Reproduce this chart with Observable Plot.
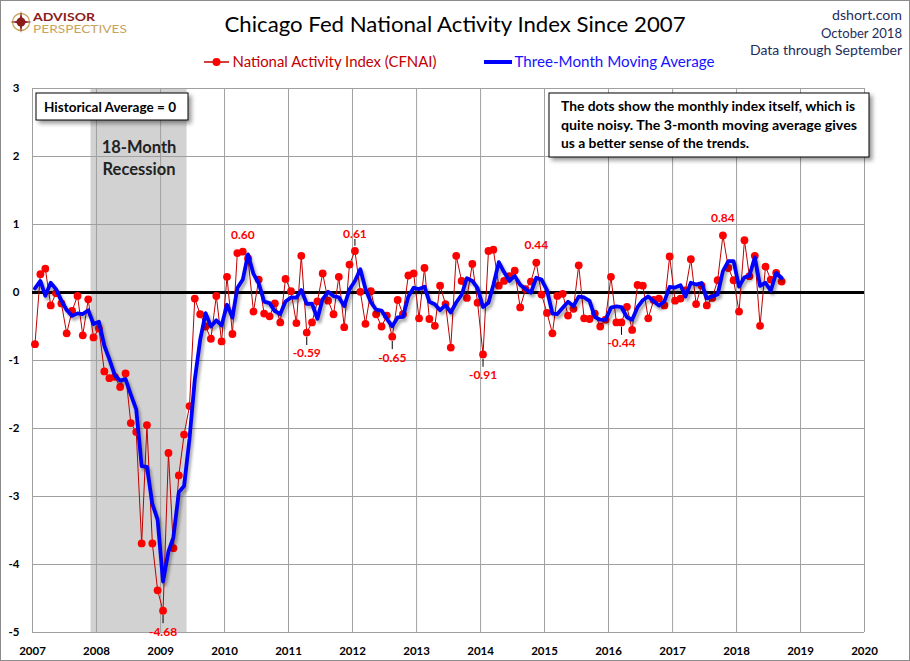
<!DOCTYPE html>
<html>
<head>
<meta charset="utf-8">
<script src="https://cdn.jsdelivr.net/npm/d3@7"></script>
<script src="https://cdn.jsdelivr.net/npm/@observablehq/plot@0.6"></script>
<style>
  html, body { margin: 0; padding: 0; background: #fff; }
  #wrap { position: relative; width: 910px; height: 661px; overflow: hidden; background: #fff; }
  #chart, #overlay { position: absolute; left: 0; top: 0; }
  #overlay { pointer-events: none; }
  #frame { position: absolute; left: 0; top: 0; width: 908px; height: 659px; border: 1px solid #8c8c8c; pointer-events: none; }
</style>
</head>
<body>
<div id="wrap">
  <div id="chart"></div>
  <svg id="overlay" width="910" height="661" xmlns="http://www.w3.org/2000/svg"></svg>
  <div id="frame"></div>
</div>
<script>
// ---------------- data ----------------
// Nov & Dec 2006: only feed the first two 3-month averages (not drawn as dots)
const v2006NovDec = [-0.06, 1.00];
const v2007 = [-0.76, 0.27, 0.35, -0.19, -0.01, -0.16, -0.60, -0.27, -0.05, -0.63, -0.10, -0.66];
const v2008 = [-0.53, -1.16, -1.26, -1.24, -1.39, -1.19, -1.92, -2.05, -3.69, -1.95, -3.69, -4.38];
const v2009 = [-4.68, -2.36, -3.76, -2.69, -2.09, -1.67, -0.09, -0.32, -0.50, -0.68, -0.05, -0.72];
const v2010 = [0.23, -0.61, 0.58, 0.60, 0.50, -0.28, 0.19, -0.31, -0.35, -0.16, -0.44, 0.20];
const v2011 = [0.02, -0.45, 0.54, -0.59, -0.44, -0.13, 0.28, -0.12, -0.32, 0.23, -0.51, 0.41];
const v2012 = [0.61, 0.01, -0.46, 0.02, -0.32, -0.50, -0.34, -0.65, -0.11, -0.32, 0.25, 0.28];
const v2013 = [-0.38, 0.36, -0.39, -0.49, 0.10, -0.17, -0.81, 0.54, 0.17, -0.08, 0.42, -0.15];
const v2014 = [-0.91, 0.61, 0.63, 0.10, 0.17, 0.24, 0.32, -0.22, 0.05, 0.16, 0.44, -0.03];
const v2015 = [-0.30, -0.60, -0.05, -0.02, -0.34, -0.24, 0.40, -0.38, -0.39, -0.31, -0.50, -0.40];
const v2016 = [0.23, -0.44, -0.44, -0.21, -0.55, 0.11, 0.10, -0.38, -0.11, -0.09, -0.19, 0.53];
const v2017 = [-0.12, -0.09, 0.03, 0.49, -0.17, 0.10, -0.19, -0.08, 0.18, 0.84, 0.36, 0.18];
const v2018 = [-0.28, 0.77, 0.24, 0.54, -0.49, 0.38, 0.19, 0.29, 0.16];

const years = [2007, 2008, 2009, 2010, 2011, 2012, 2013, 2014, 2015, 2016, 2017, 2018];
const yearValues = [v2007, v2008, v2009, v2010, v2011, v2012, v2013, v2014, v2015, v2016, v2017, v2018];

const xTickYears = [2007, 2008, 2009, 2010, 2011, 2012, 2013, 2014, 2015, 2016, 2017, 2018, 2019, 2020];
const yTicks = [-5, -4, -3, -2, -1, 0, 1, 2, 3];

const recessions = [{start: "2007-12-01", end: "2009-06-01", label: "18-Month\nRecession"}];
const highLabelMonths = ["2010-04", "2012-01", "2014-11", "2017-10"];
const lowLabelMonths = ["2009-01", "2011-04", "2012-08", "2014-01", "2016-03"];
const leaderMonthsHigh = ["2012-01"];

// ---------------- tables built from the arrays ----------------
const pad = m => String(m + 1).padStart(2, "0");
const rows = [];
years.forEach((yr, i) => yearValues[i].forEach((v, m) => rows.push({
  key: `${yr}-${pad(m)}`, date: new Date(Date.UTC(yr, m, 15)), value: v
})));
const priorRows = v2006NovDec.map((v, i) => ({key: `2006-${pad(10 + i)}`, date: new Date(Date.UTC(2006, 10 + i, 15)), value: v}));
const allRows = priorRows.concat(rows);
const byKey = new Map(rows.map(d => [d.key, d]));
const highs = highLabelMonths.map(k => byKey.get(k));
const lows = lowLabelMonths.map(k => byKey.get(k));
const highLeaders = leaderMonthsHigh.map(k => byKey.get(k));
const xTicks = xTickYears.map(y => new Date(Date.UTC(y, 0, 1)));
const recTable = recessions.map(r => {
  const s = new Date(r.start + "T00:00:00Z"), e = new Date(r.end + "T00:00:00Z");
  return {start: s, end: e, mid: new Date((+s + +e) / 2), label: r.label};
});
const fmt = v => v.toFixed(2);
const MA_COLOR = "#0000ff";

// ---------------- chart ----------------
const chart = Plot.plot({
  width: 910,
  height: 661,
  marginLeft: 32,
  marginRight: 46,
  marginTop: 88,
  marginBottom: 29,
  style: {fontFamily: "Lato, 'Open Sans', sans-serif", fontSize: "11.5px", fontWeight: "bold", color: "#000", background: "transparent", overflow: "visible"},
  x: {type: "utc", domain: [xTicks[0], xTicks[xTicks.length - 1]], ticks: xTicks,
      tickFormat: d => String(d.getUTCFullYear()), tickSize: 0, tickPadding: 14, label: null},
  y: {domain: [yTicks[0], yTicks[yTicks.length - 1]], ticks: yTicks,
      tickFormat: d => String(d), tickSize: 0, tickPadding: 13, label: null},
  marks: [
    Plot.rect(recTable, {x1: "start", x2: "end", y1: yTicks[0], y2: yTicks[yTicks.length - 1], fill: "#d2d2d2"}),
    Plot.ruleX(xTicks, {stroke: "#a0a0a0", strokeWidth: 1}),
    Plot.ruleY(yTicks, {stroke: "#a0a0a0", strokeWidth: 1}),
    Plot.text(recTable, {x: "mid", y: 2, text: "label", fontSize: 16.5, fontWeight: "bold",
      fill: "#222", lineHeight: 1.35, textAnchor: "middle"}),
    Plot.ruleY([0], {stroke: "#000", strokeWidth: 3}),
    Plot.line(rows, {x: "date", y: "value", stroke: "#c00000", strokeWidth: 1}),
    Plot.dot(rows, {x: "date", y: "value", r: 3.9, fill: "#ff0000", stroke: "none"}),
    Plot.line(allRows, Plot.windowY({k: 3, anchor: "end", strict: true},
      {x: "date", y: "value", stroke: MA_COLOR, strokeWidth: 3.8, clip: true})),
    Plot.ruleX(lows, {x: "date", y1: d => d.value - 0.07, y2: d => d.value - 0.19, stroke: "#000", strokeWidth: 1}),
    Plot.ruleX(highLeaders, {x: "date", y1: d => d.value + 0.07, y2: d => d.value + 0.17, stroke: "#000", strokeWidth: 1}),
    Plot.text(highs, {x: "date", y: "value", text: d => fmt(d.value), dy: -17, fill: "#ff0000",
      fontSize: 12, fontWeight: "bold", textAnchor: "middle"}),
    Plot.text(lows, {x: "date", y: "value", text: d => fmt(d.value), dy: 21, fill: "#ff0000",
      fontSize: 12, fontWeight: "bold", textAnchor: "middle"})
  ]
});
document.getElementById("chart").appendChild(chart);
chart.querySelectorAll(`g[stroke="${MA_COLOR}"]`).forEach(g => {
  g.style.filter = "drop-shadow(2px 3px 1.5px rgba(0,0,0,0.35))";
});

// ---------------- title, legend, notes (outside the plot) ----------------
const ov = document.getElementById("overlay");
const F = "Lato, 'Open Sans', sans-serif";
ov.innerHTML = `
  <g>
    <circle cx="21" cy="22" r="8.5" fill="none" stroke="#c8a45c" stroke-width="1.3"/>
    <circle cx="21" cy="22" r="4.5" fill="#8b1c1c"/>
    <polygon points="21,11 22.6,20.4 32,22 22.6,23.6 21,33 19.4,23.6 10,22 19.4,20.4" fill="#8b1c1c"/>
    <text x="33" y="21" font-family="${F}" font-weight="bold" font-size="12" fill="#8b1c1c" textLength="62" lengthAdjust="spacingAndGlyphs">ADVISOR</text>
    <text x="33" y="33" font-family="${F}" font-size="11.5" fill="#c8a45c" textLength="94" lengthAdjust="spacingAndGlyphs">PERSPECTIVES</text>
  </g>
  <text x="455" y="32" text-anchor="middle" font-family="${F}" font-size="22" fill="#000" textLength="461" lengthAdjust="spacingAndGlyphs">Chicago Fed National Activity Index Since 2007</text>
  <g font-family="${F}" font-size="13.5" fill="#1f2d5c" text-anchor="end">
    <text x="902" y="20" textLength="70" lengthAdjust="spacingAndGlyphs">dshort.com</text>
    <text x="902" y="37.5" textLength="81" lengthAdjust="spacingAndGlyphs">October 2018</text>
    <text x="902" y="55" textLength="152" lengthAdjust="spacingAndGlyphs">Data through September</text>
  </g>
  <g>
    <line x1="204" y1="62" x2="229" y2="62" stroke="#c00000" stroke-width="1.5"/>
    <circle cx="216.5" cy="62" r="4" fill="#ff0000"/>
    <text x="232.5" y="66.5" font-family="${F}" font-size="14.5" fill="#c00000" textLength="204" lengthAdjust="spacingAndGlyphs">National Activity Index (CFNAI)</text>
    <line x1="484" y1="62" x2="512" y2="62" stroke="#0000ff" stroke-width="4"/>
    <text x="514.5" y="66.5" font-family="${F}" font-size="14.5" fill="#1414ff" textLength="200" lengthAdjust="spacingAndGlyphs">Three-Month Moving Average</text>
  </g>
  <g>
    <rect x="36" y="93" width="152" height="27" fill="#fff" stroke="#000" stroke-width="1" style="filter: drop-shadow(3px 3px 2px rgba(0,0,0,0.4))"/>
    <text x="44" y="111.5" font-family="${F}" font-weight="bold" font-size="13.5" fill="#000" textLength="132" lengthAdjust="spacingAndGlyphs">Historical Average = 0</text>
  </g>
  <g>
    <rect x="549" y="93" width="320" height="64" fill="#fff" stroke="#000" stroke-width="1" style="filter: drop-shadow(3px 3px 2px rgba(0,0,0,0.4))"/>
    <g font-family="${F}" font-weight="bold" font-size="12.5" fill="#000">
      <text x="561" y="111" textLength="294" lengthAdjust="spacingAndGlyphs">The dots show the monthly  index itself, which is</text>
      <text x="561" y="129.5" textLength="296" lengthAdjust="spacingAndGlyphs">quite noisy. The 3-month moving average gives</text>
      <text x="561" y="148" textLength="188" lengthAdjust="spacingAndGlyphs">us a better sense of the trends.</text>
    </g>
  </g>
`;
</script>
</body>
</html>
